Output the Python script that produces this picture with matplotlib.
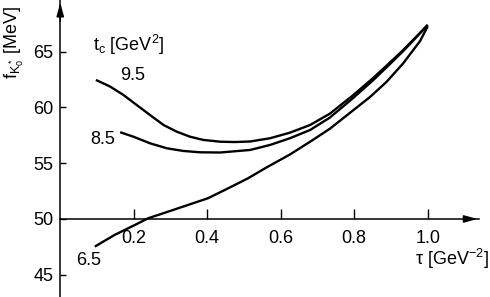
import numpy as np
import matplotlib.pyplot as plt

plt.rcParams['font.family'] = ['Liberation Sans', 'DejaVu Sans']
plt.rcParams['mathtext.fontset'] = 'custom'
plt.rcParams['mathtext.rm'] = 'Liberation Sans'
plt.rcParams['mathtext.it'] = 'Liberation Sans:italic'

# data
tau_95 = [0.097, 0.136, 0.172, 0.208, 0.244, 0.281, 0.317, 0.353, 0.389, 0.435, 0.475, 0.517,
          0.571, 0.625, 0.680, 0.734, 0.797, 0.850, 0.888, 0.930, 0.960, 1.000]
f_95 = [62.47, 61.87, 61.12, 60.22, 59.33, 58.43, 57.83, 57.38, 57.09, 56.93, 56.90, 56.95,
        57.24, 57.74, 58.43, 59.45, 61.10, 62.60, 63.75, 65.05, 66.05, 67.40]

tau_85 = [0.163, 0.199, 0.244, 0.290, 0.335, 0.380, 0.435, 0.517, 0.571, 0.625, 0.680, 0.734,
          0.797, 0.850, 0.888, 0.930, 0.960, 1.000]
f_85 = [57.78, 57.38, 56.79, 56.34, 56.10, 55.98, 55.96, 56.19, 56.64, 57.24, 57.98, 59.10,
        60.85, 62.40, 63.60, 64.95, 65.98, 67.40]

tau_65 = [0.094, 0.148, 0.203, 0.239, 0.293, 0.348, 0.402, 0.457, 0.511, 0.565, 0.625, 0.688,
          0.734, 0.780, 0.843, 0.888, 0.933, 0.979, 1.000]
f_65 = [47.52, 48.57, 49.46, 50.06, 50.65, 51.26, 51.86, 52.75, 53.65, 54.69, 55.78, 57.10,
        58.10, 59.30, 60.94, 62.30, 63.95, 65.95, 67.28]

xticks = [0.2, 0.4, 0.6, 0.8, 1.0]
yticks = [45, 50, 55, 60, 65]

fig = plt.figure(figsize=(4.9, 2.97), dpi=100)
ax = fig.add_axes([0, 0, 1, 1])
ax.set_xlim(-0.164, 1.1695)
ax.set_ylim(43.0, 69.64)

for x, y in [(tau_95, f_95), (tau_85, f_85), (tau_65, f_65)]:
    ax.plot(x, y, color='black', lw=1.7, solid_capstyle='butt', solid_joinstyle='round')

# axes through (0, 50)
for s in ['top', 'right']:
    ax.spines[s].set_visible(False)
ax.spines['left'].set_position(('data', 0))
ax.spines['bottom'].set_position(('data', 50))
ax.spines['left'].set_linewidth(1.1)
ax.spines['bottom'].set_linewidth(1.1)
ax.spines['bottom'].set_bounds(0, 1.14)
ax.annotate('', xy=(1.143, 50), xytext=(1.11, 50),
            arrowprops=dict(arrowstyle='-|>,head_length=0.8,head_width=0.22', color='black', lw=1.1))
ax.annotate('', xy=(0, 69.64), xytext=(0, 67.5),
            arrowprops=dict(arrowstyle='-|>,head_length=0.8,head_width=0.22', color='black', lw=1.1))

ax.set_xticks(xticks)
ax.set_xticklabels(['%.1f' % t for t in xticks])
ax.set_yticks(yticks)
ax.set_yticklabels([str(t) for t in yticks])
ax.tick_params(axis='x', direction='in', length=7.5, width=1.0, pad=8, labelsize=13)
ax.tick_params(axis='y', direction='in', length=4, width=1.0, pad=5, labelsize=13)

ax.text(0.088, 65.6, r't$_\mathregular{c}$ [GeV$^\mathregular{2}$]', fontsize=13, va='center', ha='left')
ax.text(0.196, 62.9, '9.5', fontsize=13, ha='center', va='center')
ax.text(0.116, 57.1, '8.5', fontsize=13, ha='center', va='center')
ax.text(0.078, 46.3, '6.5', fontsize=13, ha='center', va='center')
ax.text(1.166, 46.4, r'$\mathregular{\tau}$ [GeV$^\mathregular{-2}$]', fontsize=13, ha='right', va='center')
ax.text(-0.124, 65.9, r'f$_{\mathregular{K_0^*}}$ [MeV]', fontsize=13, rotation=90, ha='center', va='center')

fig.savefig('out.png', dpi=100)
